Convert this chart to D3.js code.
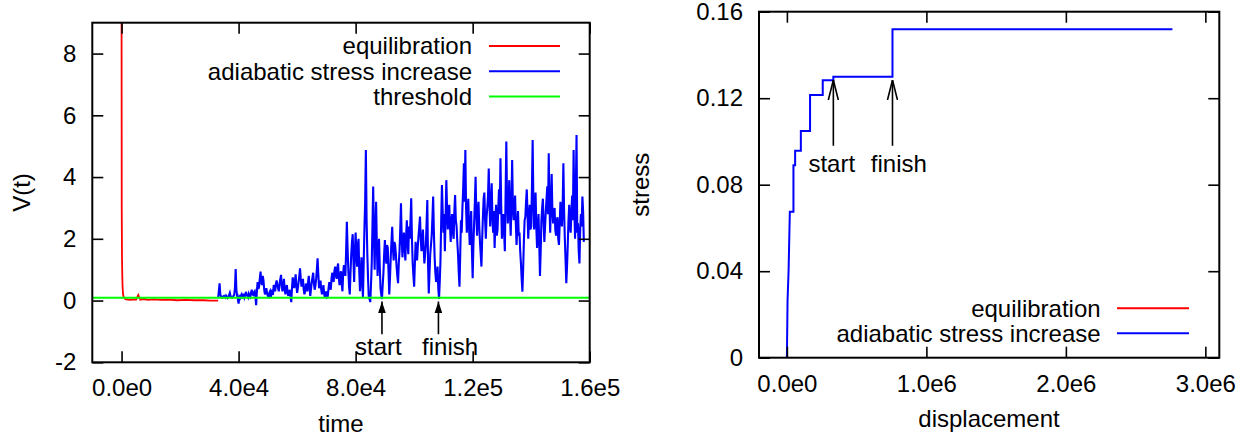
<!DOCTYPE html>
<html>
<head>
<meta charset="utf-8">
<script src="https://cdn.jsdelivr.net/npm/d3@7/dist/d3.min.js"></script>
<style>
  body { margin: 0; background: #fff; }
  svg { display: block; }
  text { font-family: "Liberation Sans", Arial, Helvetica, sans-serif; fill: #000; }
</style>
</head>
<body>
<svg id="chart" width="1255" height="440"></svg>
<script>
// ---------- left panel: V(t) ----------
const timeTicks = [0, 4e4, 8e4, 1.2e5, 1.6e5];
const timeTickLabels = ["0.0e0", "4.0e4", "8.0e4", "1.2e5", "1.6e5"];
const vTicks = [-2, 0, 2, 4, 6, 8];
const vTickLabels = ["-2", "0", "2", "4", "6", "8"];

// equilibration run
const equilTime = [-250, 0, 60, 150, 250, 350, 500, 700, 1000, 1500, 2200, 3000, 4000, 5000, 5700, 6400, 7500, 9000, 11000, 13500, 16000, 19000, 22000, 25000, 28000, 30500, 33000];
const equilV    = [14, 9.5, 3.0, 1.42, 0.8, 0.45, 0.22, 0.12, 0.07, 0.04, 0.03, 0.02, 0.04, 0.03, 0.18, 0.03, 0.05, 0.02, 0.04, 0.02, 0.03, 0.01, 0.02, 0.01, 0.01, 0.0, 0.0];

// adiabatic stress increase, sampled every 250 time units from t = 33000
const adiabaticStart = 33000;
const adiabaticStep = 250;
const adiabaticV = [
  0.08,0.30, 0.56,0.20, 0.12,0.09, 0.10,0.14, 0.15,0.11, 0.09,0.16, 0.13,0.08, 0.10,0.18, 0.25,0.14, 0.12,0.09, 0.10,0.15, 0.18,0.40, 1.02,0.35, 0.15,0.05, -0.10,0.12, 0.08,0.16, 0.20,0.10, 0.12,0.22, 0.10,0.17, 0.28,0.20,
  0.15,0.10, 0.22,0.16, 0.12,0.25, 0.35,0.20, 0.18,0.26, 0.30,0.12, -0.15,0.30, 0.60,0.38, 0.45,0.70, 0.94,0.62, 0.50,0.80, 0.65,0.35, 0.20,0.28, 0.40,0.22, 0.15,0.12, 0.25,0.30, 0.10,0.24, 0.35,0.18, 0.50,0.42, 0.30,0.55,
  0.65,0.50, 0.40,0.30, 0.55,0.68, 0.83,0.45, 0.30,0.52, 0.70,0.35, 0.20,0.42, 0.50,0.25, 0.15,0.28, 0.35,0.12, -0.05,0.40, 0.75,0.55, 0.40,0.62, 0.85,0.48, 0.25,0.40, 0.60,0.80, 1.04,0.70, 0.45,0.58, 0.70,0.35, 0.20,0.30,
  0.55,0.45, 0.30,0.60, 0.80,0.42, 0.15,0.38, 0.60,0.75, 0.90,0.55, 0.35,0.48, 0.70,1.00, 1.37,0.85, 0.40,0.52, 0.65,0.35, 0.20,0.30, 0.50,0.22, 0.10,0.18, 0.30,0.12, 0.15,0.40, 0.60,0.50, 0.35,0.70, 0.90,0.75, 0.60,0.95,
  1.10,0.85, 0.70,1.05, 1.20,0.75, 0.50,0.80, 0.95,0.55, 0.30,0.90, 1.15,0.95, 0.80,1.60, 2.55,1.70, 1.00,0.45, 0.20,0.90, 1.50,1.90, 2.15,1.30, 0.60,1.60, 2.20,1.50, 1.10,1.80, 2.00,0.90, 0.30,0.80, 1.40,0.60, 0.10,1.20,
  2.30,3.20, 4.88,2.60, 1.50,0.70, 0.10,0.05, -0.05,0.50, 1.20,2.40, 3.69,2.10, 1.00,2.30, 3.20,1.80, 0.80,1.50, 2.00,1.10, 0.40,0.20, 0.05,0.50, 0.90,1.50, 1.96,1.40, 1.20,1.80, 1.70,0.90, 0.20,0.75, 1.40,1.90, 2.39,1.70,
  1.30,1.90, 1.80,1.50, 1.10,0.80, 0.56,1.20, 1.60,2.30, 3.15,2.00, 1.40,1.90, 2.20,1.70, 1.30,2.10, 2.60,1.90, 1.50,2.40, 2.00,2.60, 3.31,2.00, 1.20,0.80, 0.45,1.20, 1.90,1.60, 1.30,1.75, 2.10,2.40, 2.72,2.00, 1.60,1.90,
  2.30,1.70, 1.20,1.50, 1.80,2.50, 3.26,1.20, 0.23,0.90, 1.50,1.80, 2.10,2.70, 3.37,2.20, 1.40,0.90, 0.60,0.80, 1.10,0.40, 0.05,0.60, 1.30,2.60, 3.74,2.90, 2.20,2.80, 1.60,2.70, 3.90,3.00, 2.30,2.70, 3.10,2.40, 1.90,2.60,
  2.80,2.20, 2.00,2.90, 3.42,2.60, 2.40,1.90, 1.50,0.90, 0.45,1.50, 2.60,2.20, 3.00,3.60, 4.45,3.20, 4.88,3.00, 2.20,2.70, 3.30,2.40, 1.80,2.50, 2.90,1.60, 0.72,1.80, 2.50,3.20, 4.01,2.80, 2.10,2.90, 3.20,2.40, 1.90,1.50,
  1.10,2.00, 2.70,3.30, 3.50,2.60, 2.00,2.70, 3.00,3.40, 4.28,3.10, 2.40,3.20, 3.80,2.70, 2.20,2.90, 1.70,2.50, 3.10,2.10, 2.30,3.00, 3.60,2.80, 4.61,3.10, 2.00,2.60, 2.80,2.20, 1.60,3.40, 5.15,3.30, 2.50,3.00, 3.90,2.80,
  2.10,3.20, 4.55,3.00, 2.60,3.10, 3.40,2.50, 1.80,2.40, 2.90,2.10, 2.20,1.60, 1.20,0.70, 0.29,1.00, 1.90,2.60, 2.70,3.20, 3.60,2.80, 2.00,2.70, 3.10,2.30, 2.40,3.60, 5.20,3.20, 2.30,2.90, 3.50,2.40, 1.70,2.30, 2.80,1.90,
  0.80,1.60, 2.60,3.00, 3.30,2.50, 1.90,2.40, 2.90,3.30, 3.70,2.80, 4.77,3.10, 2.20,3.20, 4.10,2.90, 2.50,2.70, 3.00,2.30, 2.10,2.60, 2.70,2.00, 1.80,2.50, 3.20,2.80, 2.40,3.00, 4.45,2.90, 2.00,1.30, 0.56,1.10, 1.80,2.60,
  3.10,2.40, 2.20,2.90, 3.40,2.60, 4.88,3.00, 2.00,3.50, 5.36,2.20, 2.50,1.60, 1.20,2.30, 2.80,2.40, 3.37,2.90, 1.90
];

const thresholdV = 0.09;

// annotation arrows (time, V from → to) and labels
const vArrowTime = [8.9e4, 1.083e5];
const vArrowFrom = -1.09;
const vArrowTo = -0.03;
const vLabelText = ["start", "finish"];
const vLabelTime = [7.98e4, 1.027e5];
const vLabelV = -1.76;

// ---------- right panel: stress vs displacement ----------
const dispTicks = [0, 1e6, 2e6, 3e6];
const dispTickLabels = ["0.0e0", "1.0e6", "2.0e6", "3.0e6"];
const stressTicks = [0, 0.04, 0.08, 0.12, 0.16];
const stressTickLabels = ["0", "0.04", "0.08", "0.12", "0.16"];

// initial loading ramp
const rampDisp   = [0, 4.8e3, 12e3, 21e3];
const rampStress = [0, 0.0267, 0.040, 0.0675];
// stress plateaus: each one begins at the listed displacement
const plateauDisp   = [21e3, 47e3, 59e3, 100e3, 166e3, 257e3, 333e3, 757e3];
const plateauStress = [0.0675, 0.089, 0.0957, 0.1048, 0.1215, 0.1283, 0.1299, 0.1519];
const finalDisp = 2.764e6;

const sArrowDisp = [333e3, 757e3];
const sArrowFrom = 0.098;
const sArrowTo = 0.1284;
const sLabelText = ["start", "finish"];
const sLabelDisp = [154e3, 602e3];
const sLabelStress = 0.086;

// ---------- drawing ----------
const svg = d3.select("#chart");
const FONT = 24;
const TICK = 11;
const RED = "#ff0000", BLUE = "#0000ff", GREEN = "#00ff00";

const defs = svg.append("defs");
defs.append("marker").attr("id", "headFilled")
  .attr("viewBox", "0 0 12 8").attr("refX", 12).attr("refY", 4)
  .attr("markerWidth", 12).attr("markerHeight", 8)
  .attr("markerUnits", "userSpaceOnUse").attr("orient", "auto")
  .append("path").attr("d", "M0,0 L12,4 L0,8 Z").attr("fill", "#000");
defs.append("marker").attr("id", "headOpen")
  .attr("viewBox", "0 0 20 12").attr("refX", 20).attr("refY", 6)
  .attr("markerWidth", 20).attr("markerHeight", 12)
  .attr("markerUnits", "userSpaceOnUse").attr("orient", "auto")
  .append("path").attr("d", "M0,1 L20,6 L0,11").attr("fill", "none")
  .attr("stroke", "#000").attr("stroke-width", 1.6);

function frameAxes(g, x, y, xt, xl, yt, yl) {
  const [x0, x1] = x.range();
  const [y0, y1] = y.range();
  const fmt = (ticks, labels) => d => labels[ticks.indexOf(d)];

  const bottom = g.append("g").attr("transform", `translate(0,${y0})`)
    .call(d3.axisBottom(x).tickValues(xt).tickFormat(fmt(xt, xl))
      .tickSizeInner(-TICK).tickSizeOuter(0).tickPadding(17));
  const top = g.append("g").attr("transform", `translate(0,${y1})`)
    .call(d3.axisTop(x).tickValues(xt).tickFormat("")
      .tickSizeInner(-TICK).tickSizeOuter(0));
  const left = g.append("g").attr("transform", `translate(${x0},0)`)
    .call(d3.axisLeft(y).tickValues(yt).tickFormat(fmt(yt, yl))
      .tickSizeInner(-TICK).tickSizeOuter(0).tickPadding(16));
  const right = g.append("g").attr("transform", `translate(${x1},0)`)
    .call(d3.axisRight(y).tickValues(yt).tickFormat("")
      .tickSizeInner(-TICK).tickSizeOuter(0));

  [bottom, top, left, right].forEach(a => {
    a.select(".domain").remove();
    a.selectAll(".tick line").attr("stroke", "#000").attr("stroke-width", 1.6);
    a.selectAll(".tick text").attr("font-size", FONT).attr("fill", "#000")
      .style("font-family", '"Liberation Sans", Arial, sans-serif');
  });

  g.append("rect")
    .attr("x", x0).attr("y", y1).attr("width", x1 - x0).attr("height", y0 - y1)
    .attr("fill", "none").attr("stroke", "#000").attr("stroke-width", 2);
}

function legend(g, rows, xText, xLine0, xLine1) {
  rows.forEach(r => {
    g.append("text").attr("x", xText).attr("y", r.y).attr("dy", "0.35em")
      .attr("text-anchor", "end").attr("font-size", FONT).text(r.label);
    g.append("line").attr("x1", xLine0).attr("x2", xLine1)
      .attr("y1", r.y).attr("y2", r.y)
      .attr("stroke", r.color).attr("stroke-width", 2);
  });
}

// ----- left panel -----
const xL = d3.scaleLinear().domain([-1e4, 1.6e5]).range([92.3, 589.7]);
const yL = d3.scaleLinear().domain([-2, 9]).range([362.3, 22.7]);
const gL = svg.append("g");

defs.append("clipPath").attr("id", "clipL").append("rect")
  .attr("x", 92.3).attr("y", 22.7).attr("width", 589.7 - 92.3).attr("height", 362.3 - 22.7);

const plotL = gL.append("g").attr("clip-path", "url(#clipL)");
const lineL = d3.line().x(d => xL(d[0])).y(d => yL(d[1]));

plotL.append("path")
  .datum(equilTime.map((t, i) => [t, equilV[i]]))
  .attr("d", lineL).attr("fill", "none").attr("stroke", RED).attr("stroke-width", 1.8);

plotL.append("path")
  .datum(adiabaticV.map((v, i) => [adiabaticStart + i * adiabaticStep, v]))
  .attr("d", lineL).attr("fill", "none").attr("stroke", BLUE)
  .attr("stroke-width", 2.1).attr("stroke-linejoin", "miter");

plotL.append("path")
  .datum(xL.domain().map(t => [t, thresholdV]))
  .attr("d", lineL).attr("fill", "none").attr("stroke", GREEN).attr("stroke-width", 2);

vArrowTime.forEach(t => {
  gL.append("line")
    .attr("x1", xL(t)).attr("x2", xL(t))
    .attr("y1", yL(vArrowFrom)).attr("y2", yL(vArrowTo))
    .attr("stroke", "#000").attr("stroke-width", 1.6)
    .attr("marker-end", "url(#headFilled)");
});
vLabelText.forEach((s, i) => {
  gL.append("text").attr("x", xL(vLabelTime[i])).attr("y", yL(vLabelV))
    .attr("font-size", FONT).text(s);
});

frameAxes(gL, xL, yL, timeTicks, timeTickLabels, vTicks, vTickLabels);

gL.append("text").attr("transform", "translate(22,192.5) rotate(-90)")
  .attr("text-anchor", "middle").attr("dy", "0.35em").attr("font-size", FONT).text("V(t)");
gL.append("text").attr("x", 341).attr("y", 432)
  .attr("text-anchor", "middle").attr("font-size", FONT).text("time");

legend(gL, [
  { label: "equilibration", color: RED, y: 46 },
  { label: "adiabatic stress increase", color: BLUE, y: 71.3 },
  { label: "threshold", color: GREEN, y: 96.6 }
], 472, 489, 560);

// ----- right panel -----
const xR = d3.scaleLinear().domain([-2e5, 3.1e6]).range([759, 1219.3]);
const yR = d3.scaleLinear().domain([0, 0.16]).range([357.7, 11.7]);
const gR = svg.append("g");

// stress path: ramp, then vertical rises between plateaus
const stressPts = rampDisp.map((d, i) => [d, rampStress[i]]);
plateauDisp.forEach((d, i) => {
  if (i > 0) stressPts.push([d, plateauStress[i - 1]]);
  stressPts.push([d, plateauStress[i]]);
});
stressPts.push([finalDisp, plateauStress[plateauStress.length - 1]]);

gR.append("path")
  .datum(stressPts)
  .attr("d", d3.line().x(d => xR(d[0])).y(d => yR(d[1])))
  .attr("fill", "none").attr("stroke", BLUE).attr("stroke-width", 2);

sArrowDisp.forEach(d => {
  gR.append("line")
    .attr("x1", xR(d)).attr("x2", xR(d))
    .attr("y1", yR(sArrowFrom)).attr("y2", yR(sArrowTo))
    .attr("stroke", "#000").attr("stroke-width", 1.6)
    .attr("marker-end", "url(#headOpen)");
});
sLabelText.forEach((s, i) => {
  gR.append("text").attr("x", xR(sLabelDisp[i])).attr("y", yR(sLabelStress))
    .attr("font-size", FONT).text(s);
});

frameAxes(gR, xR, yR, dispTicks, dispTickLabels, stressTicks, stressTickLabels);

gR.append("text").attr("transform", "translate(641,184.7) rotate(-90)")
  .attr("text-anchor", "middle").attr("dy", "0.35em").attr("font-size", FONT).text("stress");
gR.append("text").attr("x", 989).attr("y", 427)
  .attr("text-anchor", "middle").attr("font-size", FONT).text("displacement");

legend(gR, [
  { label: "equilibration", color: RED, y: 308.3 },
  { label: "adiabatic stress increase", color: BLUE, y: 333.3 }
], 1100.6, 1117, 1189);
</script>
</body>
</html>
